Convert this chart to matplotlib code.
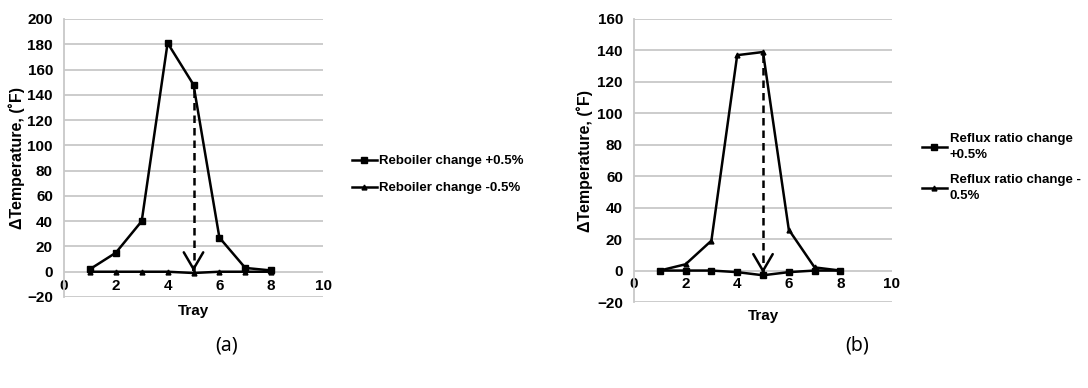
import matplotlib.pyplot as plt

plt.rcParams["font.family"] = ["Liberation Sans", "DejaVu Sans"]

trays = [1, 2, 3, 4, 5, 6, 7, 8]

# (a) reboiler duty step
reboiler_up = [2, 15, 40, 181, 148, 27, 3, 1]
reboiler_down = [0, 0, 0, 0, -1, 0, 0, 0]

# (b) reflux ratio step
reflux_up = [0, 0, 0, -1, -3, -1, 0, 0]
reflux_down = [0, 4, 19, 137, 139, 26, 2, 0]

GRID = "#c8c8c8"


def style_axes(ax, ymin, ymax, ylab_x):
    ax.set_xlim(0, 10)
    ax.set_ylim(ymin, ymax)
    ax.set_yticks(range(ymin, ymax + 1, 20))
    ax.set_xticks([0, 2, 4, 6, 8, 10])
    ax.grid(axis="y", color=GRID, lw=1.3)
    ax.set_axisbelow(True)
    for s in ["top", "right"]:
        ax.spines[s].set_visible(False)
    ax.spines["left"].set_color(GRID)
    ax.spines["left"].set_linewidth(1.3)
    ax.spines["bottom"].set_position(("data", 0))
    ax.spines["bottom"].set_visible(False)
    ax.tick_params(axis="both", length=0, labelsize=11)
    ax.tick_params(axis="y", pad=8)
    ax.tick_params(axis="x", pad=5)
    for lab in ax.get_xticklabels() + ax.get_yticklabels():
        lab.set_fontweight("bold")
    ax.set_ylabel("\u0394Temperature, (\u02daF)", fontsize=11.5, fontweight="bold")
    ax.yaxis.set_label_coords(ylab_x, 0.5)
    ax.set_xlabel("Tray", fontsize=11, fontweight="bold")
    ax.xaxis.set_label_coords(0.5, -0.025)


def draw_arrow(ax, x, ytop, ybot, head):
    ax.plot([x, x], [ytop, ybot], color="black", lw=1.8, ls=(0, (3, 2)), zorder=4)
    ax.annotate("", xy=(x, ybot), xytext=(x, ybot + head),
                arrowprops=dict(arrowstyle="->,head_length=1.2,head_width=0.7",
                                color="black", lw=1.8), zorder=5)


fig = plt.figure(figsize=(10.88, 3.88), dpi=100)

# panel (a)
ax1 = fig.add_axes([64 / 1088, 1 - 297 / 388, 259 / 1088, 278 / 388])
style_axes(ax1, -20, 200, -0.15)
ax1.plot(trays, reboiler_up, color="black", lw=1.8, marker="s", ms=4,
         label="Reboiler change +0.5%", zorder=3)
ax1.plot(trays, reboiler_down, color="black", lw=1.8, marker="^", ms=3.5,
         label="Reboiler change -0.5%", zorder=3)
draw_arrow(ax1, 5, reboiler_up[4] - 4, reboiler_down[4] - 1, 6)
ax1.legend(loc="center left", bbox_to_anchor=(1.065, 0.44), frameon=False,
           prop={"size": 9.5, "weight": "bold"}, handlelength=1.9, handletextpad=0.2,
           labelspacing=1.1)

# panel (b)
ax2 = fig.add_axes([634 / 1088, 1 - 302 / 388, 258 / 1088, 283 / 388])
style_axes(ax2, -20, 160, -0.16)
ax2.plot(trays, reflux_up, color="black", lw=1.8, marker="s", ms=4,
         label="Reflux ratio change\n+0.5%", zorder=3)
ax2.plot(trays, reflux_down, color="black", lw=1.8, marker="^", ms=3.5,
         label="Reflux ratio change -\n0.5%", zorder=3)
draw_arrow(ax2, 5, reflux_down[4] - 2, reflux_up[4] - 0.5, 5)
leg2 = ax2.legend(loc="center left", bbox_to_anchor=(1.07, 0.475), frameon=False,
                  prop={"size": 9.5, "weight": "bold"}, handlelength=1.9,
                  handletextpad=0.2, labelspacing=1.0)
for t in leg2.get_texts():
    t.set_linespacing(1.4)

# captions
fig.text(227 / 1088, 1 - 345 / 388, "(a)", fontsize=14, family="Noto Sans",
         ha="center", va="center")
fig.text(857 / 1088, 1 - 345 / 388, "(b)", fontsize=14, family="Noto Sans",
         ha="center", va="center")

fig.savefig("out.png", dpi=100)
